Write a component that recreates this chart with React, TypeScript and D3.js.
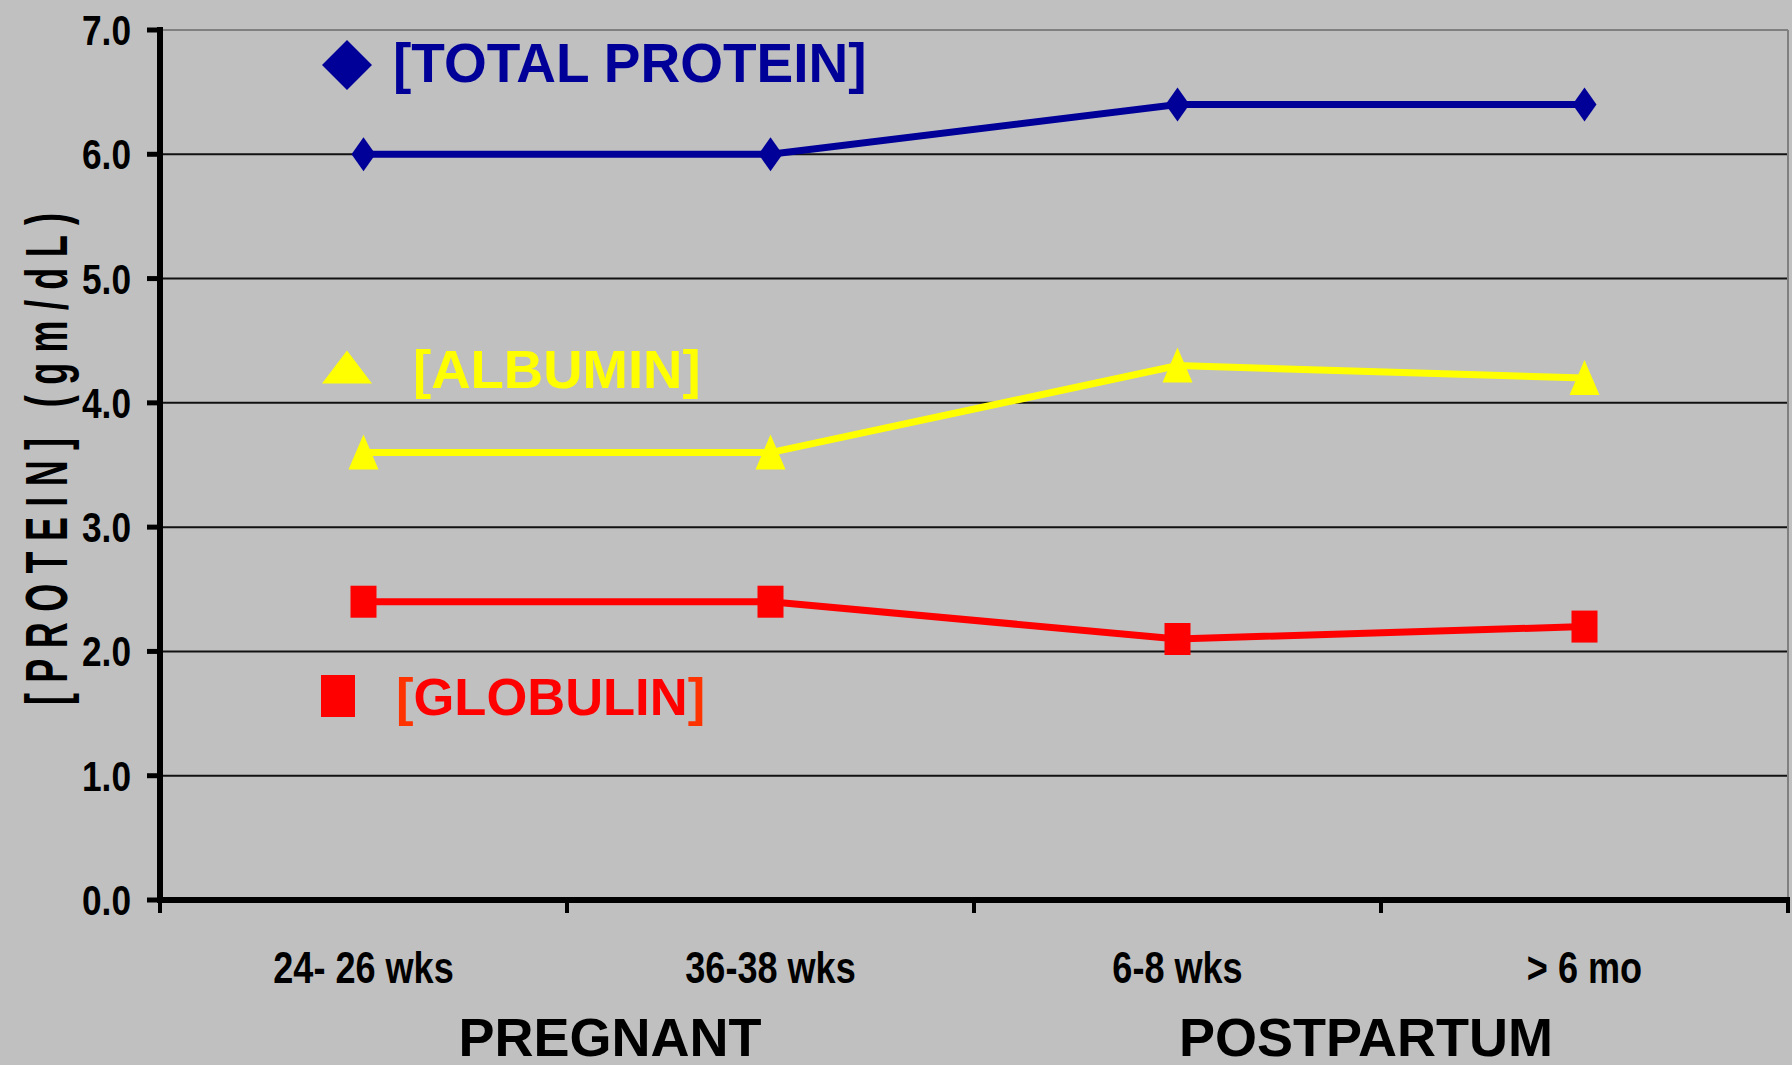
import React from "react";
import * as d3 from "d3";

const categories = ["24- 26 wks", "36-38 wks", "6-8 wks", "> 6 mo"];
const totalProtein = [6.0, 6.0, 6.4, 6.4];
const albumin = [3.6, 3.6, 4.3, 4.2];
const globulin = [2.4, 2.4, 2.1, 2.2];
const yTicks = [0, 1, 2, 3, 4, 5, 6, 7];
const groupLabels = ["PREGNANT", "POSTPARTUM"];

const W = 1792;
const H = 1065;
const L = 160, R = 1788, T = 30, B = 900;

const BG = "#c0c0c0";
const BLUE = "#000099";
const YELLOW = "#ffff00";
const RED = "#ff0000";
const ORANGE = "#ff3300";

export default function App() {
  const x = d3.scaleBand<string>().domain(categories).range([L, R]).padding(0);
  const y = d3.scaleLinear().domain([0, 7]).range([B, T]);
  const cx = (c: string) => (x(c) as number) + x.bandwidth() / 2;
  const line = d3
    .line<number>()
    .x((_, i) => cx(categories[i]))
    .y((d) => y(d));

  const sans = "'Liberation Sans', Arial, sans-serif";
  const NARROW = 0.82;

  const boundaries = [...categories.map((c) => x(c) as number), R];

  return (
    <svg
      width={W}
      height={H}
      style={{ position: "absolute", left: 0, top: 0, display: "block" }}
    >
      <rect x={0} y={0} width={W} height={H} fill={BG} />
      {/* gridlines */}
      {yTicks.filter((t) => t > 0 && t < 7).map((t) => (
        <line key={t} x1={L} x2={R} y1={y(t)} y2={y(t)} stroke="#111" strokeWidth={2} />
      ))}
      {/* plot border top/right */}
      <line x1={L} x2={R} y1={y(7)} y2={y(7)} stroke="#808080" strokeWidth={2} />
      <line x1={R} x2={R} y1={y(7)} y2={B} stroke="#808080" strokeWidth={2} />

      {/* y axis */}
      <line x1={L} x2={L} y1={y(7) - 3} y2={B + 3} stroke="#000" strokeWidth={6} />
      {yTicks.map((t) => (
        <g key={t}>
          <line x1={L - 13} x2={L} y1={y(t)} y2={y(t)} stroke="#000" strokeWidth={5} />
          <text
            transform={`translate(131, ${y(t) + 15}) scale(${NARROW}, 1)`}
            textAnchor="end"
            fontFamily={sans}
            fontWeight="bold"
            fontSize={43}
            fill="#000"
          >
            {t.toFixed(1)}
          </text>
        </g>
      ))}
      {/* x axis */}
      <line x1={L - 3} x2={R + 2} y1={B} y2={B} stroke="#000" strokeWidth={6} />
      {boundaries.map((b, i) => (
        <line key={i} x1={b} x2={b} y1={B} y2={B + 13} stroke="#000" strokeWidth={4} />
      ))}
      {categories.map((c) => (
        <text
          key={c}
          transform={`translate(${cx(c)}, 983) scale(${NARROW}, 1)`}
          textAnchor="middle"
          fontFamily={sans}
          fontWeight="bold"
          fontSize={44}
          fill="#000"
        >
          {c}
        </text>
      ))}
      <text x={610} y={1056} textAnchor="middle" fontFamily={sans} fontWeight="bold" fontSize={54} fill="#000">
        {groupLabels[0]}
      </text>
      <text x={1366} y={1056} textAnchor="middle" fontFamily={sans} fontWeight="bold" fontSize={54} fill="#000">
        {groupLabels[1]}
      </text>

      {/* y axis title */}
      <text
        transform={`translate(67, 459) rotate(-90) scale(0.6, 1)`}
        textAnchor="middle"
        fontFamily={sans}
        fontWeight="bold"
        fontSize={60}
        fill="#000"
        textLength={820}
        lengthAdjust="spacing"
      >
        [PROTEIN] (gm/dL)
      </text>

      {/* series lines */}
      <path d={line(totalProtein) || ""} fill="none" stroke={BLUE} strokeWidth={7} />
      <path d={line(albumin) || ""} fill="none" stroke={YELLOW} strokeWidth={7} />
      <path d={line(globulin) || ""} fill="none" stroke={RED} strokeWidth={7} />

      {/* markers */}
      {totalProtein.map((v, i) => (
        <path
          key={"tp" + i}
          transform={`translate(${cx(categories[i])},${y(v)})`}
          d="M0,-17 L12,0 L0,17 L-12,0 Z"
          fill={BLUE}
        />
      ))}
      {albumin.map((v, i) => (
        <path
          key={"al" + i}
          transform={`translate(${cx(categories[i])},${y(v)})`}
          d="M0,-18 L15,17 L-15,17 Z"
          fill={YELLOW}
        />
      ))}
      {globulin.map((v, i) => (
        <rect
          key={"gl" + i}
          x={cx(categories[i]) - 13}
          y={y(v) - 16}
          width={26}
          height={32}
          fill={RED}
        />
      ))}

      {/* legend labels */}
      <path transform="translate(347,65)" d="M0,-25 L25,0 L0,25 L-25,0 Z" fill={BLUE} />
      <text x={393} y={82} fontFamily={sans} fontWeight="bold" fontSize={55} fill={BLUE}>
        [TOTAL PROTEIN]
      </text>

      <path transform="translate(347,367)" d="M0,-16.5 L25,16.5 L-25,16.5 Z" fill={YELLOW} />
      <text x={413} y={388} fontFamily={sans} fontWeight="bold" fontSize={54.5} fill={YELLOW}>
        [ALBUMIN]
      </text>

      <rect x={321} y={675} width={34} height={42} fill={RED} />
      <text x={396} y={715} fontFamily={sans} fontWeight="bold" fontSize={52.5} fill={RED}>
        <tspan fill={ORANGE}>[</tspan>GLOBULIN<tspan fill={ORANGE}>]</tspan>
      </text>
    </svg>
  );
}
